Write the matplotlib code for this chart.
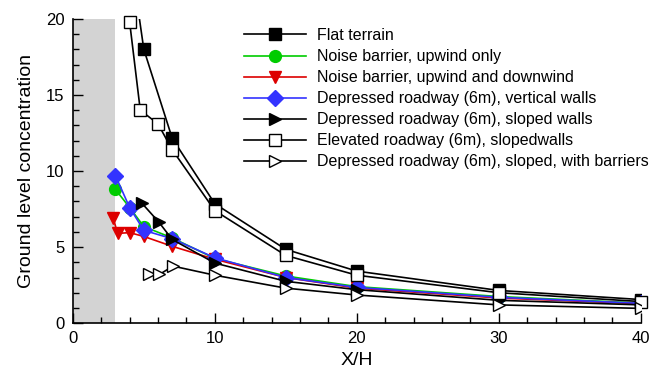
"""Ground level concentration vs. downwind distance for several roadway configurations."""

import matplotlib.pyplot as plt
from matplotlib.ticker import MultipleLocator

plt.rcParams["font.family"] = ["Liberation Sans", "DejaVu Sans"]

# ---- Data ----
flat_x = [4, 5, 7, 10, 15, 20, 30, 40]
flat_y = [24.5, 18.0, 12.15, 7.85, 4.85, 3.42, 2.15, 1.55]

nb_up_x = [2.95, 4, 5, 7, 10, 15, 20, 30, 40]
nb_up_y = [8.85, 7.6, 6.35, 5.6, 4.25, 3.1, 2.4, 1.75, 1.32]

nb_both_x = [2.85, 3.15, 4, 5, 7, 10, 15, 20, 30, 40]
nb_both_y = [6.9, 5.9, 5.95, 5.7, 5.05, 4.2, 3.0, 2.3, 1.65, 1.28]

dep_vert_x = [3, 4, 5, 7, 10, 15, 20, 30, 40]
dep_vert_y = [9.7, 7.6, 6.1, 5.55, 4.3, 3.0, 2.35, 1.7, 1.3]

dep_slope_x = [4.85, 6.05, 7, 10, 15, 20, 30, 40]
dep_slope_y = [7.9, 6.65, 5.5, 3.95, 2.75, 2.2, 1.5, 1.2]

elev_x = [4, 4.75, 6, 7, 10, 15, 20, 30, 40]
elev_y = [19.8, 14.0, 13.1, 11.4, 7.4, 4.45, 3.15, 2.0, 1.42]

dep_barr_x = [5.35, 6.1, 7.05, 10, 15, 20, 30, 40]
dep_barr_y = [3.2, 3.2, 3.75, 3.15, 2.3, 1.85, 1.2, 0.97]

ROAD_EXTENT = 3  # shaded roadway region, X/H

GREEN = "#00cc00"
RED = "#dd0000"
BLUE = "#3333ff"


def main() -> None:
    fig = plt.figure(figsize=(6.62, 3.71), dpi=100)
    ax = fig.add_axes([0.110, 0.129, 0.858, 0.820])

    ax.axvspan(0, ROAD_EXTENT, color="#d3d3d3", lw=0, zorder=0)

    lw = 1.2
    ax.plot(flat_x, flat_y, "-s", color="black", lw=lw, ms=8.5,
            label="Flat terrain")
    ax.plot(nb_up_x, nb_up_y, "-o", color=GREEN, lw=lw, ms=8.5,
            label="Noise barrier, upwind only")
    ax.plot(nb_both_x, nb_both_y, "-v", color=RED, lw=lw, ms=8.5,
            label="Noise barrier, upwind and downwind")
    ax.plot(dep_vert_x, dep_vert_y, "-D", color=BLUE, lw=lw, ms=8,
            label="Depressed roadway (6m), vertical walls")
    ax.plot(dep_slope_x, dep_slope_y, "->", color="black", lw=lw, ms=8.5,
            label="Depressed roadway (6m), sloped walls")
    ax.plot(elev_x, elev_y, "-s", color="black", mfc="white", mew=1.0,
            lw=lw, ms=8.5, clip_on=False,
            label="Elevated roadway (6m), slopedwalls")
    ax.plot(dep_barr_x, dep_barr_y, "->", color="black", mfc="white",
            mew=1.0, lw=lw, ms=9,
            label="Depressed roadway (6m), sloped, with barriers")

    ax.set_xlim(0, 40)
    ax.set_ylim(0, 20)
    ax.xaxis.set_major_locator(MultipleLocator(10))
    ax.xaxis.set_minor_locator(MultipleLocator(2))
    ax.yaxis.set_major_locator(MultipleLocator(5))
    ax.yaxis.set_minor_locator(MultipleLocator(1))
    ax.tick_params(which="both", direction="in", labelsize=12, width=1.0)
    ax.tick_params(which="major", length=7)
    ax.tick_params(which="minor", length=4)
    ax.tick_params(axis="y", pad=6)
    ax.tick_params(axis="x", pad=6)

    for side in ("top", "right"):
        ax.spines[side].set_visible(False)
    for side in ("left", "bottom"):
        ax.spines[side].set_linewidth(1.2)

    ax.set_xlabel("X/H", fontsize=14, labelpad=4)
    ax.set_ylabel("Ground level concentration", fontsize=14)
    ax.yaxis.set_label_coords(-0.066, 0.5)

    ax.legend(loc="upper left", bbox_to_anchor=(0.301, 0.97),
              frameon=False, fontsize=11.5, handlelength=3.9,
              handletextpad=0.7, labelspacing=0.38, borderpad=0,
              borderaxespad=0)

    fig.savefig("out.png", dpi=100)


if __name__ == "__main__":
    main()
